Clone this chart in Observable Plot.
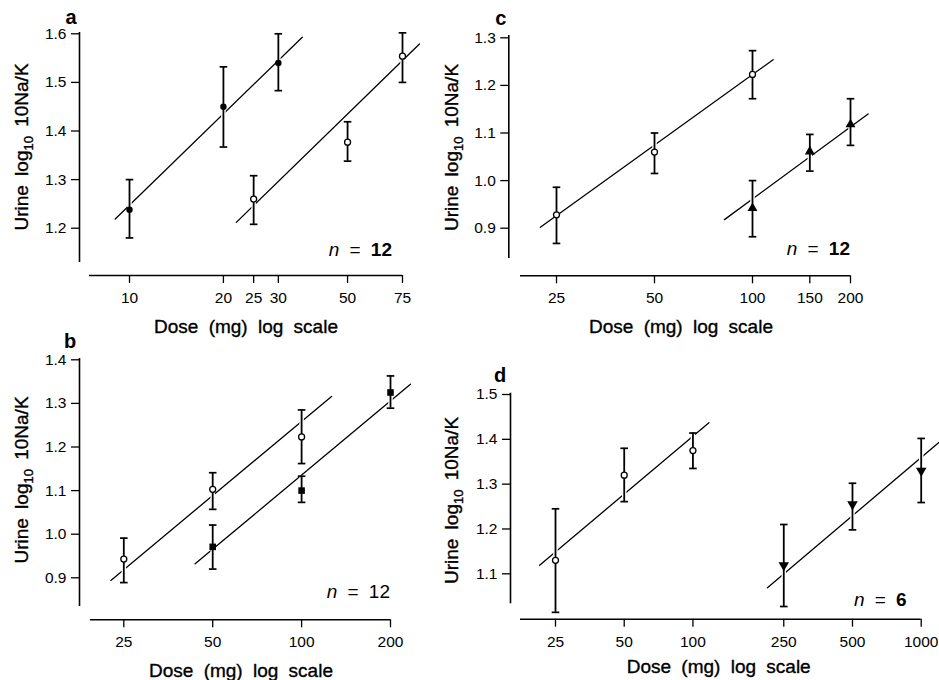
<!DOCTYPE html>
<html><head><meta charset="utf-8">
<script src="https://cdn.jsdelivr.net/npm/d3@7"></script>
<script src="https://cdn.jsdelivr.net/npm/@observablehq/plot@0.6"></script>
<style>
html,body{margin:0;padding:0;background:#fff;overflow:hidden;}
#fig{position:relative;width:939px;height:680px;overflow:hidden;}
.panel{position:absolute;}
#fig g[aria-label="x-axis tick label"], #fig g[aria-label="y-axis tick label"]{font-size:15.5px !important;}
#fig g[aria-label="x-axis tick label"] text, #fig g[aria-label="y-axis tick label"] text{font-size:15.5px !important;}
</style></head><body><div id="fig"></div>
<script>
// ---------- DATA ----------
// Panel a
const aXTicks = [10, 20, 25, 30, 50, 75];
const aYTicks = [1.2, 1.3, 1.4, 1.5, 1.6];
const aFilledDose = [10, 20, 30];
const aFilledMean = [1.238, 1.45, 1.54];
const aFilledLo   = [1.18, 1.367, 1.483];
const aFilledHi   = [1.30, 1.532, 1.60];
const aOpenDose = [25, 50, 75];
const aOpenMean = [1.26, 1.377, 1.554];
const aOpenLo   = [1.208, 1.338, 1.50];
const aOpenHi   = [1.308, 1.419, 1.602];
const aFilledFitDose = [9.0, 35.8];
const aFilledFitValue = [1.219, 1.593];
const aOpenFitDose = [22.0, 85.0];
const aOpenFitValue = [1.212, 1.579];

// Panel b
const bXTicks = [25, 50, 100, 200];
const bYTicks = [0.9, 1.0, 1.1, 1.2, 1.3, 1.4];
const bOpenDose = [25, 50, 100];
const bOpenMean = [0.943, 1.103, 1.223];
const bOpenLo   = [0.889, 1.057, 1.162];
const bOpenHi   = [0.991, 1.141, 1.285];
const bSquareDose = [50, 100, 200];
const bSquareMean = [0.971, 1.10, 1.325];
const bSquareLo   = [0.92, 1.073, 1.289];
const bSquareHi   = [1.021, 1.133, 1.363];
const bOpenFitDose = [22.6, 126.3];
const bOpenFitValue = [0.894, 1.316];
const bSquareFitDose = [43.6, 233.7];
const bSquareFitValue = [0.932, 1.344];

// Panel c
const cXTicks = [25, 50, 100, 150, 200];
const cYTicks = [0.9, 1.0, 1.1, 1.2, 1.3];
const cOpenDose = [25, 50, 100];
const cOpenMean = [0.928, 1.06, 1.223];
const cOpenLo   = [0.868, 1.015, 1.172];
const cOpenHi   = [0.986, 1.10, 1.273];
const cTriDose = [100, 150, 200];
const cTriMean = [0.942, 1.061, 1.118];
const cTriLo   = [0.882, 1.020, 1.074];
const cTriHi   = [1.0, 1.097, 1.172];
const cOpenFitDose = [22.3, 115.7];
const cOpenFitValue = [0.902, 1.254];
const cTriFitDose = [82, 226.5];
const cTriFitValue = [0.918, 1.140];

// Panel d
const dXTicks = [25, 50, 100, 250, 500, 1000];
const dYTicks = [1.1, 1.2, 1.3, 1.4, 1.5];
const dOpenDose = [25, 50, 100];
const dOpenMean = [1.13, 1.32, 1.375];
const dOpenLo   = [1.014, 1.261, 1.335];
const dOpenHi   = [1.245, 1.38, 1.414];
const dTriDose = [250, 500, 1000];
const dTriMean = [1.119, 1.255, 1.33];
const dTriLo   = [1.027, 1.198, 1.259];
const dTriHi   = [1.21, 1.302, 1.402];
const dOpenFitDose = [21.3, 117.5];
const dOpenFitValue = [1.119, 1.437];
const dTriFitDose = [212, 1203];
const dTriFitValue = [1.069, 1.394];

const nA = "12", nB = "12", nC = "12", nD = "6";
const xTitle = "Dose (mg) log scale";

// ---------- helpers ----------
const rows = (dose, mean, lo, hi) => dose.map((d, i) => ({dose: d, mean: mean[i], lo: lo[i], hi: hi[i]}));
const fit = (dose, value) => dose.map((d, i) => ({dose: d, value: value[i]}));
function linInv(v1, p1, v2, p2) { const k = (v2 - v1) / (p2 - p1); return p => v1 + (p - p1) * k; }
function logInv(v1, p1, v2, p2) { const a = Math.log10(v1), b = Math.log10(v2); const k = (b - a) / (p2 - p1); return p => 10 ** (a + (p - p1) * k); }

const FONT = "'Liberation Sans', Arial, Helvetica, sans-serif";
const capSymbol = {draw(ctx) { ctx.moveTo(-3.8, 0); ctx.lineTo(3.8, 0); }};
const markerOpts = {
  filledCircle: {r: 3.2, fill: "black", stroke: "none"},
  openCircle: {r: 3, fill: "white", stroke: "black", strokeWidth: 1.3},
  square: {symbol: "square", r: 3.7, fill: "black"},
  triangleUp: {symbol: "triangle", r: 3.7, fill: "black"},
  triangleDown: {symbol: "triangle", r: 3.9, fill: "black", rotate: 180}
};

const panels = [
  {id: "a", left: 0, top: 0, width: 470, height: 340,
   frame: {l: 79, r: 440, t: 20, b: 275}, xcal: [10, 129, 75, 402], ycal: [1.6, 33.3, 1.2, 227.7],
   yLine: [32, 262], xLine: [89, 402], xTicks: aXTicks, yTicks: aYTicks,
   series: [{m: "filledCircle", d: rows(aFilledDose, aFilledMean, aFilledLo, aFilledHi)},
            {m: "openCircle", d: rows(aOpenDose, aOpenMean, aOpenLo, aOpenHi)}],
   fits: [fit(aFilledFitDose, aFilledFitValue), fit(aOpenFitDose, aOpenFitValue)],
   letter: {x: 71, y: 23.5}, nLab: {x: 392, y: 256, n: nA, bold: true},
   xLab: {x: 246, y: 333}, yLab: {x: 28.3, y: 147}},
  {id: "c", left: 470, top: 0, width: 469, height: 340,
   frame: {l: 38.3, r: 440, t: 20, b: 275.3}, xcal: [25, 86, 200, 380], ycal: [1.3, 37.3, 0.9, 227.7],
   yLine: [35, 258], xLine: [50, 380], xTicks: cXTicks, yTicks: cYTicks,
   series: [{m: "openCircle", d: rows(cOpenDose, cOpenMean, cOpenLo, cOpenHi)},
            {m: "triangleUp", d: rows(cTriDose, cTriMean, cTriLo, cTriHi)}],
   fits: [fit(cOpenFitDose, cOpenFitValue), fit(cTriFitDose, cTriFitValue)],
   letter: {x: 30.7, y: 25}, nLab: {x: 380, y: 255, n: nC, bold: true},
   xLab: {x: 211, y: 333.3}, yLab: {x: -11.7, y: 147.5}},
  {id: "b", left: 0, top: 340, width: 470, height: 340,
   frame: {l: 79, r: 440, t: 10, b: 279.3}, xcal: [25, 123.3, 200, 390], ycal: [1.4, 19.3, 0.9, 237.3],
   yLine: [18, 266], xLine: [90, 390], xTicks: bXTicks, yTicks: bYTicks,
   series: [{m: "openCircle", d: rows(bOpenDose, bOpenMean, bOpenLo, bOpenHi)},
            {m: "square", d: rows(bSquareDose, bSquareMean, bSquareLo, bSquareHi)}],
   fits: [fit(bOpenFitDose, bOpenFitValue), fit(bSquareFitDose, bSquareFitValue)],
   letter: {x: 70, y: 8.3}, nLab: {x: 390, y: 258.3, n: nB, bold: false},
   xLab: {x: 241, y: 336.7}, yLab: {x: 28.3, y: 140}},
  {id: "d", left: 470, top: 340, width: 469, height: 340,
   frame: {l: 40, r: 469, t: 40, b: 278.7}, xcal: [25, 85, 1000, 450.7], ycal: [1.5, 54, 1.1, 233.3],
   yLine: [52.7, 263.3], xLine: [50, 450.7], xTicks: dXTicks, yTicks: dYTicks,
   series: [{m: "openCircle", d: rows(dOpenDose, dOpenMean, dOpenLo, dOpenHi)},
            {m: "triangleDown", d: rows(dTriDose, dTriMean, dTriLo, dTriHi)}],
   fits: [fit(dOpenFitDose, dOpenFitValue), fit(dTriFitDose, dTriFitValue)],
   letter: {x: 30, y: 42.3}, nLab: {x: 436.7, y: 266, n: nD, bold: true},
   xLab: {x: 248.7, y: 333.3}, yLab: {x: -11.7, y: 160.5}}
];

const fig = document.getElementById("fig");

for (const p of panels) {
  const f = p.frame;
  const xinv = logInv(...p.xcal);
  const yinv = linInv(...p.ycal);
  const xDomain = [xinv(f.l), xinv(f.r)];
  const yDomain = [yinv(f.b), yinv(f.t)];
  const marks = [
    Plot.ruleX([xDomain[0]], {insetTop: p.yLine[0] - f.t, insetBottom: f.b - p.yLine[1], strokeWidth: 1.6}),
    Plot.ruleY([yDomain[0]], {insetLeft: p.xLine[0] - f.l, insetRight: f.r - p.xLine[1], strokeWidth: 1.6}),
    Plot.axisY({ticks: p.yTicks, tickSize: 8, tickPadding: 5, tickFormat: d3.format(".1f"), strokeWidth: 1.3, label: null, fontSize: 15.5}),
    Plot.axisX({ticks: p.xTicks, tickSize: 8, tickPadding: 8.5, tickFormat: d => String(d), strokeWidth: 1.3, label: null, fontSize: 15.5})
  ];
  for (const fr of p.fits) marks.push(Plot.line(fr, {x: "dose", y: "value", stroke: "black", strokeWidth: 1.3, clip: true}));
  for (const s of p.series) {
    marks.push(Plot.ruleX(s.d, {x: "dose", y1: "lo", y2: "hi", stroke: "white", strokeWidth: 4.5}));
    marks.push(Plot.ruleX(s.d, {x: "dose", y1: "lo", y2: "hi", stroke: "black", strokeWidth: 1.8}));
    const caps = s.d.flatMap(d => [{dose: d.dose, v: d.lo}, {dose: d.dose, v: d.hi}]);
    marks.push(Plot.dot(caps, {x: "dose", y: "v", symbol: capSymbol, r: 4, fill: "none", stroke: "black", strokeWidth: 1.7}));
    marks.push(Plot.dot(s.d, {x: "dose", y: "mean", ...markerOpts[s.m]}));
  }
  const svg = Plot.plot({
    width: p.width, height: p.height,
    marginLeft: f.l, marginRight: p.width - f.r, marginTop: f.t, marginBottom: p.height - f.b,
    x: {type: "log", domain: xDomain, label: null},
    y: {domain: yDomain, label: null},
    style: {overflow: "visible", background: "transparent", fontFamily: FONT, fontSize: "15.5px", color: "black"},
    marks
  });
  const s = d3.select(svg);
  s.selectAll('g[aria-label$="tick label"]').attr("font-size", 15.5);
  const g = s.append("g").attr("font-family", FONT).attr("fill", "black");
  g.append("text").attr("x", p.letter.x).attr("y", p.letter.y)
    .attr("font-weight", "bold").attr("font-size", 20).text(p.id);
  const yl = g.append("text").attr("transform", `translate(${p.yLab.x},${p.yLab.y}) rotate(-90)`)
    .attr("text-anchor", "middle").attr("font-size", 19).attr("stroke", "black").attr("stroke-width", 0.35)
    .style("word-spacing", "4px");
  yl.append("tspan").text("Urine log");
  yl.append("tspan").attr("font-size", 13).attr("dy", 5).text("10");
  yl.append("tspan").attr("dy", -5).text(" 10Na/K");
  g.append("text").attr("x", p.xLab.x).attr("y", p.xLab.y).attr("text-anchor", "middle")
    .attr("font-size", 19).attr("stroke", "black").attr("stroke-width", 0.35)
    .style("word-spacing", "5px").text(xTitle);
  const nt = g.append("text").attr("x", p.nLab.x).attr("y", p.nLab.y).attr("text-anchor", "end")
    .attr("font-size", 19).style("word-spacing", "5px");
  nt.append("tspan").attr("font-style", "italic").text("n");
  nt.append("tspan").text(" = ");
  nt.append("tspan").attr("font-weight", p.nLab.bold ? "bold" : "normal").text(p.nLab.n);

  const div = document.createElement("div");
  div.className = "panel";
  div.style.left = p.left + "px";
  div.style.top = p.top + "px";
  div.appendChild(svg);
  fig.appendChild(div);
}
</script>
</body></html>
